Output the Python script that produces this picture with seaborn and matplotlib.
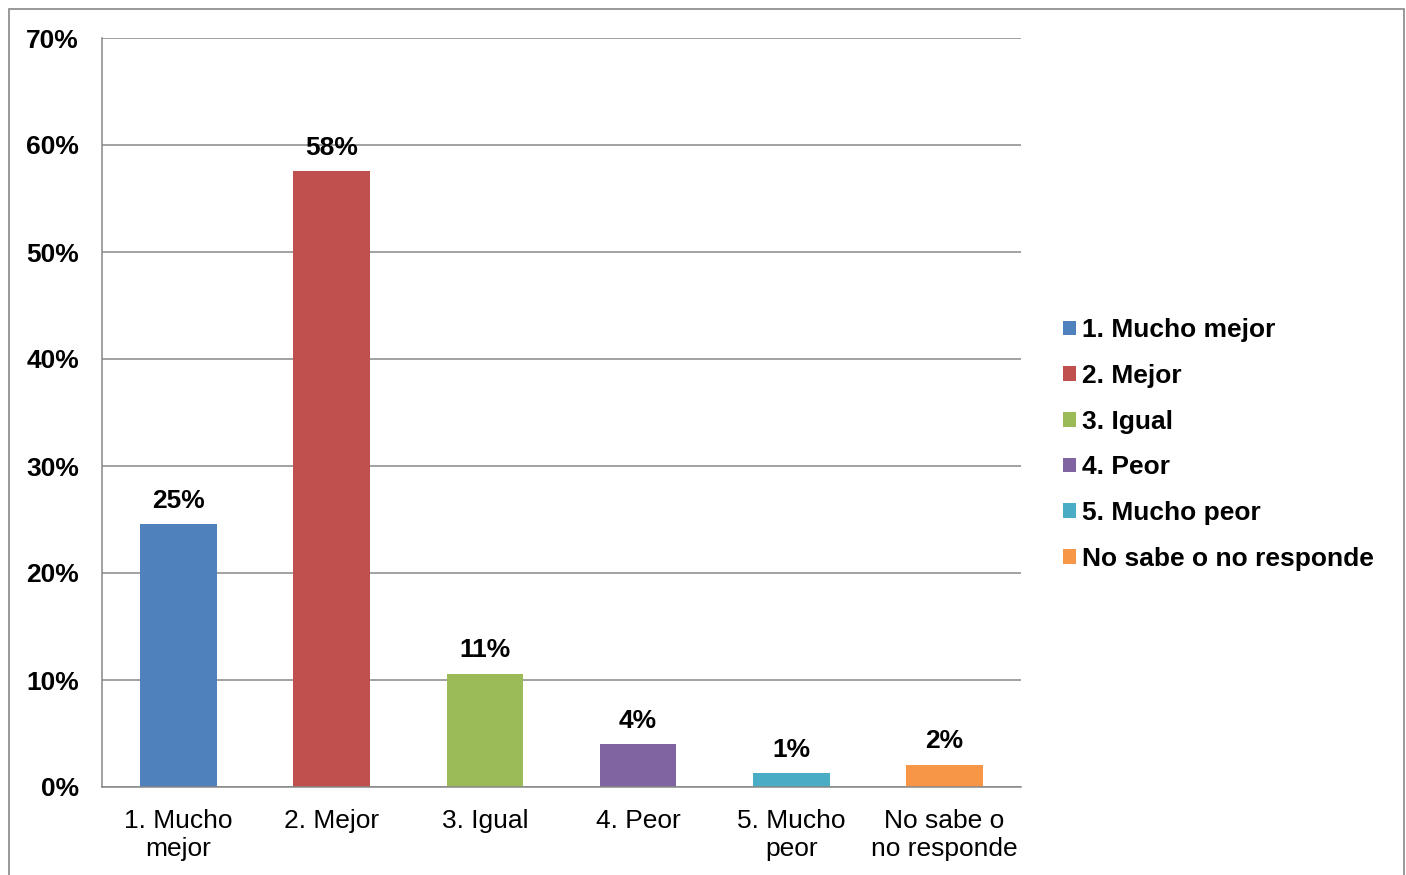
import matplotlib
matplotlib.use("Agg")
import matplotlib.pyplot as plt
import seaborn as sns
import pandas as pd
from matplotlib.patches import Patch, Rectangle
from matplotlib.ticker import FixedLocator, PercentFormatter

# datos
categorias = ["1. Mucho mejor", "2. Mejor", "3. Igual", "4. Peor", "5. Mucho peor", "No sabe o no responde"]
etiquetas_x = ["1. Mucho\nmejor", "2. Mejor", "3. Igual", "4. Peor", "5. Mucho\npeor", "No sabe o\nno responde"]
valores = [24.6, 57.6, 10.6, 4.0, 1.3, 2.1]
colores = ["#4F81BD", "#C0504D", "#9BBB59", "#8064A2", "#4BACC6", "#F79646"]

df = pd.DataFrame({"cat": categorias, "val": valores})

sns.set_style("white")
plt.rcParams["font.family"] = ["Liberation Sans", "DejaVu Sans"]
plt.rcParams["text.color"] = "black"
plt.rcParams["xtick.color"] = "black"
plt.rcParams["ytick.color"] = "black"

fig = plt.figure(figsize=(14.06, 8.75), dpi=100)
ax = fig.add_axes([102 / 1406, 1 - 787 / 875, 919 / 1406, 749 / 875])

sns.barplot(data=df, x="cat", y="val", hue="cat", palette=colores, width=0.5,
            legend=False, ax=ax, saturation=1, linewidth=0)

gris = "#878787"
ax.set_ylim(0, 70)
ax.set_xlim(-0.5, 5.5)
ax.set_yticks(range(0, 71, 10))
ax.yaxis.set_major_formatter(PercentFormatter(decimals=0))
ax.yaxis.grid(True, color=gris, linewidth=1.1)
ax.set_axisbelow(True)
for s in ["top", "right"]:
    ax.spines[s].set_visible(False)
for s in ["left", "bottom"]:
    ax.spines[s].set_color(gris)
    ax.spines[s].set_linewidth(1.1)

ax.set_xticks(range(len(etiquetas_x)))
ax.set_xticklabels(etiquetas_x, fontsize=19, linespacing=1.2, color="black")
ax.xaxis.set_minor_locator(FixedLocator([i - 0.5 for i in range(len(categorias) + 1)]))
ax.tick_params(axis="x", which="major", length=0, pad=16)
ax.tick_params(axis="x", which="minor", length=6, color=gris, width=1.1)
ax.tick_params(axis="y", length=6, color=gris, width=1.1, pad=10.5, labelcolor="black")
for t in ax.get_yticklabels():
    t.set_fontsize(19)
    t.set_fontweight("bold")
ax.set_xlabel("")
ax.set_ylabel("")

for i, v in enumerate(valores):
    ax.annotate(f"{v:.0f}%", (i, v), xytext=(0, 8), textcoords="offset points",
                ha="center", va="bottom", fontsize=19, fontweight="bold", color="black")

manijas = [Patch(facecolor=c, edgecolor="none") for c in colores]
leg = fig.legend(manijas, categorias, loc="center left", bbox_to_anchor=(1063 / 1406, 1 - 444.5 / 875),
                 frameon=False, borderpad=0, borderaxespad=0, handlelength=0.48, handleheight=0.48,
                 handletextpad=0.25, labelspacing=0.82, prop={"size": 19, "weight": "bold"})
for t in leg.get_texts():
    t.set_color("black")

# marco exterior
fig.patches.append(Rectangle((9 / 1406, -0.1), 1395 / 1406, 1.1 - 9 / 875, transform=fig.transFigure,
                             fill=False, edgecolor=gris, linewidth=1.2))

fig.savefig("out.png", dpi=100)
